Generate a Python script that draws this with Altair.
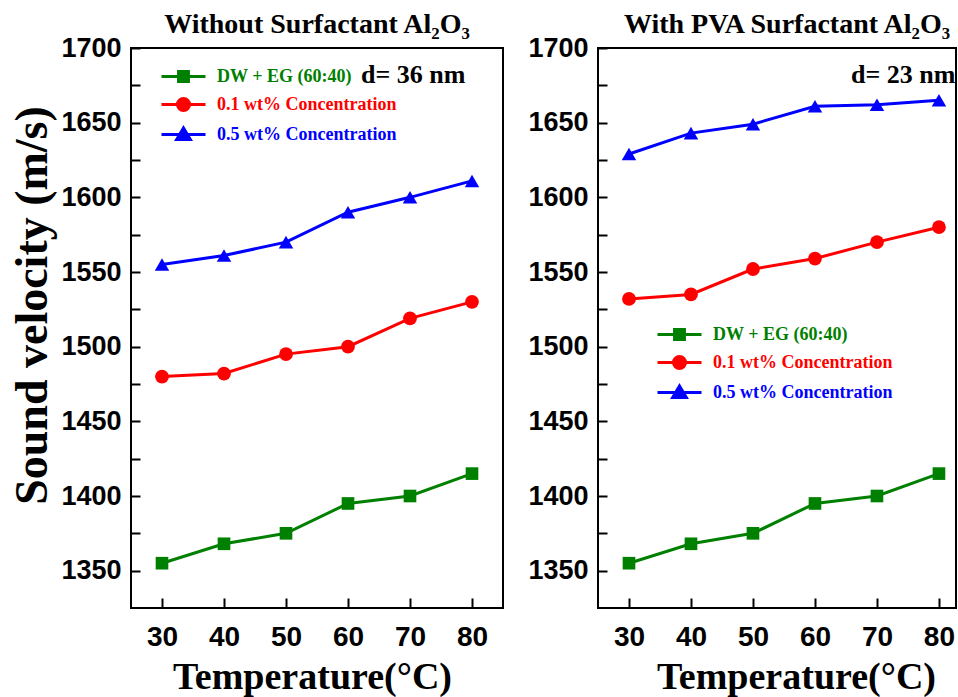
import altair as alt
import pandas as pd

# ---------------- data ----------------
temps = [30, 40, 50, 60, 70, 80]
series = ["DW + EG (60:40)", "0.1 wt% Concentration", "0.5 wt% Concentration"]

left_dw = [1355, 1368, 1375, 1395, 1400, 1415]
left_01 = [1480, 1482, 1495, 1500, 1519, 1530]
left_05 = [1555, 1561, 1570, 1590, 1600, 1611]

right_dw = [1355, 1368, 1375, 1395, 1400, 1415]
right_01 = [1532, 1535, 1552, 1559, 1570, 1580]
right_05 = [1629, 1643, 1649, 1661, 1662, 1665]

x_ticks = [30, 40, 50, 60, 70, 80]
y_ticks = [1350, 1375, 1400, 1425, 1450, 1475, 1500, 1525, 1550, 1575,
           1600, 1625, 1650, 1675, 1700]

titles = ["Without Surfactant Al\u2082O\u2083", "With PVA Surfactant Al\u2082O\u2083"]
sizes_text = ["d= 36 nm", "d= 23 nm"]

# ---------------- style ----------------
colors = ["#008000", "#FF0000", "#0000FF"]
shapes = ["square", "circle", "triangle-up"]
shape_sizes = [160, 190, 210]
legend_paths = [
    "M-2,0H2M-0.45,-0.45H0.45V0.45H-0.45Z",
    "M-2,0H2M0.55,0A0.55,0.55,0,1,1,-0.55,0A0.55,0.55,0,1,1,0.55,0Z",
    "M-2,0H2M0,-0.6L0.62,0.45H-0.62Z",
]
SERIF = "Liberation Serif"
SANS = "Liberation Sans"


def make_df(values):
    rows = []
    for s, vals in zip(series, values):
        for t, v in zip(temps, vals):
            rows.append({"temp": t, "velocity": v, "series": s})
    return pd.DataFrame(rows)


label_expr = " : ".join(
    f"datum.label == '{s}' ? '{c}'" for s, c in zip(series[:-1], colors[:-1])
) + f" : '{colors[-1]}'"


def panel(df, title, title_dx, dtext, dtext_x, leg_x, leg_y, width, xmax, y_title, x_title_x):
    x_enc = alt.X(
        "temp:Q",
        scale=alt.Scale(domain=[25, xmax], nice=False, zero=False),
        axis=alt.Axis(
            values=x_ticks, format="d", title="Temperature(\u00b0C)",
            titleFont=SERIF, titleFontSize=38, titleFontWeight="bold",
            titlePadding=7, titleX=x_title_x,
            labelFont=SANS, labelFontSize=28, labelFontWeight="bold",
            tickSize={"expr": "-10"}, labelPadding=25, labelFlush=False,
        ),
    )
    y_axis_kwargs = dict(
        values=y_ticks, format="d",
        labelExpr="datum.value % 50 == 0 ? datum.label : ''",
        labelFont=SANS, labelFontSize=27, labelFontWeight="bold",
        tickSize={"expr": "-9"}, labelPadding=19, labelFlush=False,
        labelOverlap=False,
    )
    if y_title:
        y_axis_kwargs.update(
            title=y_title, titleFont=SERIF, titleFontSize=46,
            titleFontWeight="bold", titlePadding=4, titleY=257,
        )
    else:
        y_axis_kwargs.update(title=None)
    y_enc = alt.Y(
        "velocity:Q",
        scale=alt.Scale(domain=[1325, 1700], nice=False, zero=False),
        axis=alt.Axis(**y_axis_kwargs),
    )

    base = alt.Chart(df)
    layers = []
    for s, c, sh, sz in zip(series, colors, shapes, shape_sizes):
        sub = base.transform_filter(alt.datum.series == s)
        layers.append(sub.mark_line(color=c, strokeWidth=3).encode(x=x_enc, y=y_enc))
        layers.append(
            sub.mark_point(shape=sh, filled=True, color=c, size=sz, opacity=1).encode(
                x=x_enc, y=y_enc
            )
        )

    leg = alt.Legend(
        title=None, orient="none", legendX=leg_x, legendY=leg_y, padding=0,
        symbolSize=484, symbolStrokeWidth=3, symbolOpacity=1,
        labelFont=SERIF, labelFontSize=18, labelFontWeight="bold",
        labelColor={"expr": label_expr}, labelOffset=21, labelLimit=400,
        rowPadding=4,
    )
    legend_layer = base.mark_point(filled=True, opacity=0, strokeWidth=3).encode(
        x=x_enc, y=y_enc,
        fill=alt.Fill("series:N", scale=alt.Scale(domain=series, range=colors), legend=leg),
        stroke=alt.Stroke("series:N", scale=alt.Scale(domain=series, range=colors), legend=leg),
        shape=alt.Shape("series:N", scale=alt.Scale(domain=series, range=legend_paths), legend=leg),
    )
    layers.append(legend_layer)

    text_layer = alt.Chart(pd.DataFrame({"t": [dtext]})).mark_text(
        align="left", baseline="middle", font=SERIF, fontSize=26, fontWeight="bold",
        color="black",
    ).encode(text="t:N", x=alt.value(dtext_x), y=alt.value(27))
    layers.append(text_layer)

    return alt.layer(*layers).properties(
        width=width, height=560,
        title=alt.TitleParams(
            text=title, font=SERIF, fontSize=28, fontWeight="bold",
            anchor="middle", offset=-5, dx=title_dx, color="black",
        ),
    )


left = panel(make_df([left_dw, left_01, left_05]), titles[0], 0, sizes_text[0],
             230, 40, 16, 372, 85, "Sound velocity (m/s)", 181)
right = panel(make_df([right_dw, right_01, right_05]), titles[1], 10, sizes_text[1],
              253, 69, 274, 358, 82.75, None, 198)

chart = (
    alt.hconcat(left, right, spacing=95, bounds="flush")
    .resolve_scale(fill="independent", stroke="independent", shape="independent")
    .resolve_legend(fill="independent", stroke="independent", shape="independent")
    .properties(padding={"left": 8, "top": 10, "right": 0, "bottom": 0},
                background="white")
    .configure_view(stroke="black", strokeWidth=2)
    .configure_axis(grid=False, domain=False, tickColor="black", tickWidth=2,
                    labelColor="black", titleColor="black")
)

chart.save("out.html", embed_options={"renderer": "svg", "actions": False})
